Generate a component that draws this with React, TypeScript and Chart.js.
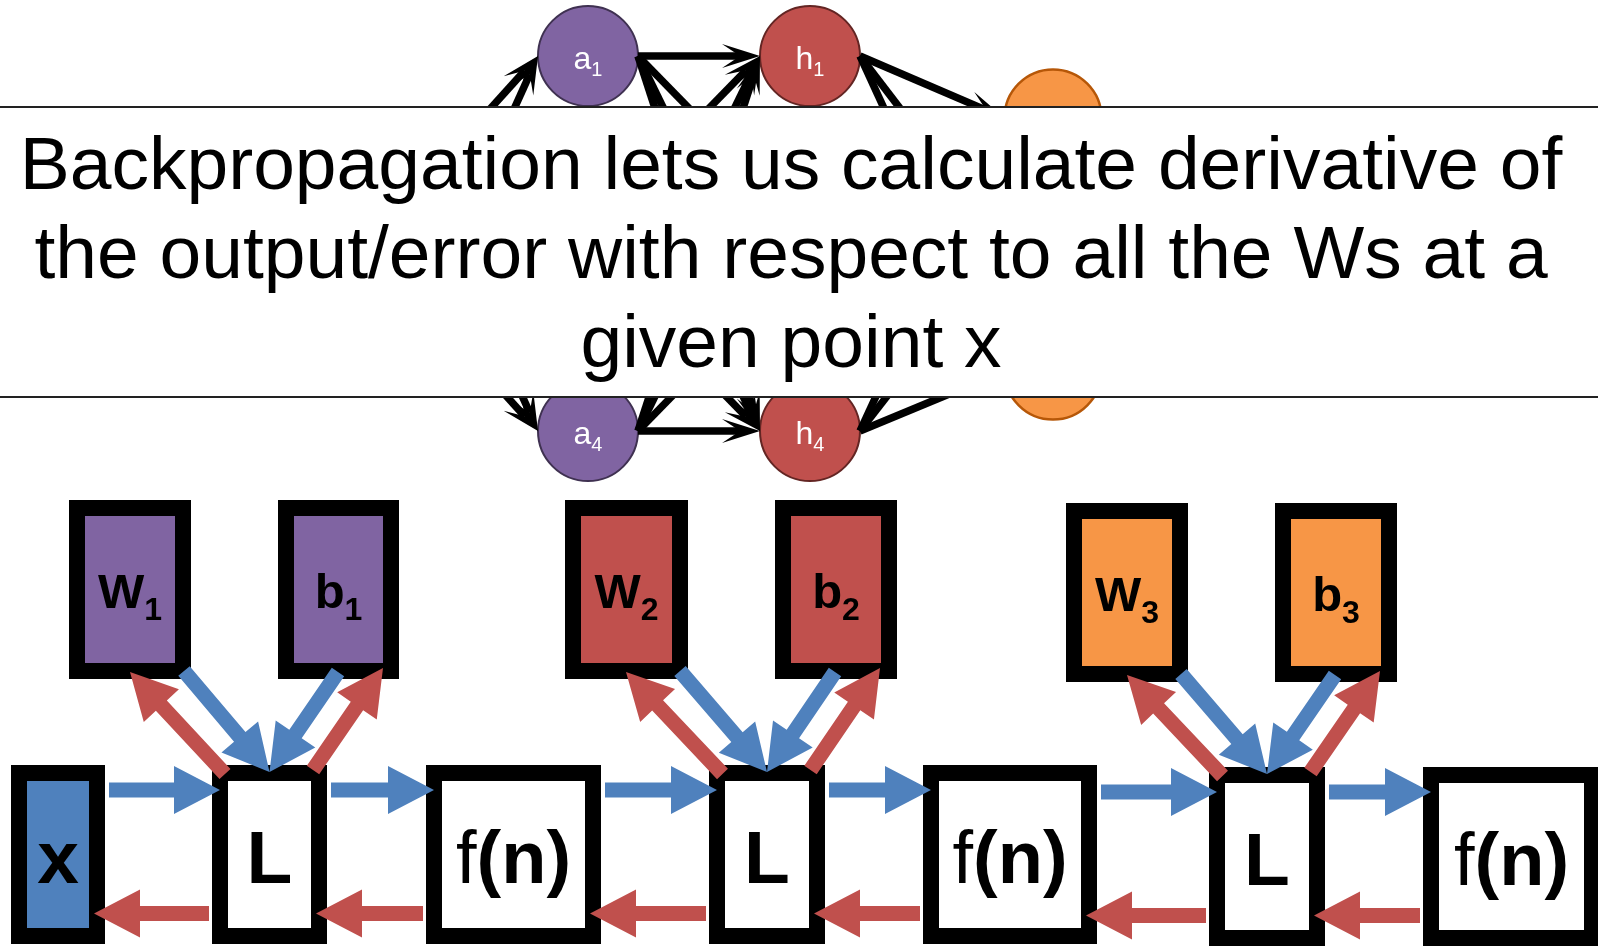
import React, { useEffect, useRef } from "react";
import { Chart, registerables } from "chart.js";

Chart.register(...registerables);

const W = 1598;
const H = 946;
const FONT = '"Liberation Sans", Arial, Helvetica, sans-serif';

// ---------- top network (diagram coordinates) ----------
const layerX = [375, 588, 810, 1053]; // inputs, a-layer, h-layer, outputs
const inputNodesY = [181, 306];
const aNodesY = [56, 181, 306, 431];
const hNodesY = [56, 181, 306, 431];
const outNodesY = [118, 245, 371];
const aSubs = ["1", "2", "3", "4"];
const hSubs = ["1", "2", "3", "4"];

// ---------- caption ----------
const captionLines = [
  "Backpropagation lets us calculate derivative of",
  "the output/error with respect to all the Ws at a",
  "given point x",
];
const captionBaselines = [189, 278, 367];
const bandTop = 107;
const bandBottom = 397;

// ---------- bottom computation chain ----------
const chainLabels = ["x", "L", "f(n)", "L", "f(n)", "L", "f(n)"];
const chainLeft = [11, 212, 426, 709, 923, 1209, 1423];
const chainRight = [105, 327, 601, 825, 1097, 1325, 1600];
const chainTop = [765, 765, 765, 765, 765, 767, 767];
const chainBottom = [944, 944, 944, 944, 944, 946, 946];
const chainFill = ["#4F81BD", "#FFFFFF", "#FFFFFF", "#FFFFFF", "#FFFFFF", "#FFFFFF", "#FFFFFF"];

const paramMain = ["W", "b", "W", "b", "W", "b"];
const paramSub = ["1", "1", "2", "2", "3", "3"];
const paramLeft = [69, 278, 565, 775, 1066, 1275];
const paramRight = [191, 399, 688, 897, 1188, 1397];
const paramTop = [500, 500, 500, 500, 503, 503];
const paramBottom = [679, 679, 679, 679, 682, 682];
const paramFill = ["#8064A2", "#8064A2", "#C0504D", "#C0504D", "#F79646", "#F79646"];

const BLUE = "#4F81BD";
const RED = "#C0504D";

function blockArrow(ctx: CanvasRenderingContext2D, tx: number, ty: number, px: number, py: number, color: string) {
  const shaft = 15, headLen = 46, headHalf = 24;
  const dx = px - tx, dy = py - ty;
  const len = Math.hypot(dx, dy);
  const ux = dx / len, uy = dy / len;
  const nx = -uy, ny = ux;
  const bx = px - ux * headLen, by = py - uy * headLen;
  ctx.beginPath();
  ctx.moveTo(tx + nx * shaft / 2, ty + ny * shaft / 2);
  ctx.lineTo(bx + nx * shaft / 2, by + ny * shaft / 2);
  ctx.lineTo(bx + nx * headHalf, by + ny * headHalf);
  ctx.lineTo(px, py);
  ctx.lineTo(bx - nx * headHalf, by - ny * headHalf);
  ctx.lineTo(bx - nx * shaft / 2, by - ny * shaft / 2);
  ctx.lineTo(tx - nx * shaft / 2, ty - ny * shaft / 2);
  ctx.closePath();
  ctx.fillStyle = color;
  ctx.fill();
}

function stealthArrow(ctx: CanvasRenderingContext2D, sx: number, sy: number, ex: number, ey: number) {
  const dx = ex - sx, dy = ey - sy;
  const len = Math.hypot(dx, dy);
  const ux = dx / len, uy = dy / len;
  const nx = -uy, ny = ux;
  const headLen = 38, headHalf = 12, notch = 20;
  ctx.strokeStyle = "#000";
  ctx.lineWidth = 7.5;
  ctx.lineCap = "butt";
  ctx.beginPath();
  ctx.moveTo(sx, sy);
  ctx.lineTo(ex - ux * notch, ey - uy * notch);
  ctx.stroke();
  ctx.beginPath();
  ctx.moveTo(ex, ey);
  ctx.lineTo(ex - ux * headLen + nx * headHalf, ey - uy * headLen + ny * headHalf);
  ctx.lineTo(ex - ux * notch, ey - uy * notch);
  ctx.lineTo(ex - ux * headLen - nx * headHalf, ey - uy * headLen - ny * headHalf);
  ctx.closePath();
  ctx.fillStyle = "#000";
  ctx.fill();
}

function subLabel(
  ctx: CanvasRenderingContext2D, cx: number, base: number, main: string, sub: string,
  mainFont: string, subFont: string, subDy: number, color: string
) {
  ctx.font = mainFont;
  const w1 = ctx.measureText(main).width;
  ctx.font = subFont;
  const w2 = ctx.measureText(sub).width;
  const x0 = cx - (w1 + w2) / 2;
  ctx.fillStyle = color;
  ctx.textAlign = "left";
  ctx.textBaseline = "alphabetic";
  ctx.font = mainFont;
  ctx.fillText(main, x0, base);
  ctx.font = subFont;
  ctx.fillText(sub, x0 + w1, base + subDy);
}

function framedBox(ctx: CanvasRenderingContext2D, l: number, t: number, r: number, b: number, fill: string) {
  const bw = 16;
  ctx.fillStyle = "#000";
  ctx.fillRect(l, t, r - l, b - t);
  ctx.fillStyle = fill;
  ctx.fillRect(l + bw, t + bw, r - l - 2 * bw, b - t - 2 * bw);
}

const diagramPlugin = {
  id: "diagram",
  afterDatasetsDraw(chart: any) {
    const ctx: CanvasRenderingContext2D = chart.ctx;
    const xs = chart.scales.x;
    const ys = chart.scales.y;
    const X = (v: number) => xs.getPixelForValue(v);
    const Y = (v: number) => ys.getPixelForValue(v);
    const R = X(50) - X(0);
    ctx.save();

    // network edges (right connection point -> left connection point)
    const layers = [inputNodesY, aNodesY, hNodesY, outNodesY];
    for (let l = 0; l < layers.length - 1; l++) {
      for (const y0 of layers[l]) {
        for (const y1 of layers[l + 1]) {
          const r1 = l + 1 === 3 ? X(48.5) - X(0) : R;
          stealthArrow(ctx, X(layerX[l]) + R, Y(y0), X(layerX[l + 1]) - r1, Y(y1));
        }
      }
    }

    // node labels
    const mainF = `32px ${FONT}`;
    const subF = `20px ${FONT}`;
    aNodesY.forEach((y, i) => subLabel(ctx, X(layerX[1]), Y(y) + 13, "a", aSubs[i], mainF, subF, 7, "#fff"));
    hNodesY.forEach((y, i) => subLabel(ctx, X(layerX[2]), Y(y) + 13, "h", hSubs[i], mainF, subF, 7, "#fff"));

    // caption band
    ctx.fillStyle = "#fff";
    ctx.fillRect(0, Y(bandTop), chart.width, Y(bandBottom) - Y(bandTop));
    ctx.strokeStyle = "#222";
    ctx.lineWidth = 2;
    ctx.beginPath();
    ctx.moveTo(0, Y(bandTop));
    ctx.lineTo(chart.width, Y(bandTop));
    ctx.moveTo(0, Y(bandBottom));
    ctx.lineTo(chart.width, Y(bandBottom));
    ctx.stroke();
    ctx.fillStyle = "#000";
    ctx.font = `75px ${FONT}`;
    ctx.textAlign = "center";
    ctx.textBaseline = "alphabetic";
    captionLines.forEach((t, i) => ctx.fillText(t, X(791), Y(captionBaselines[i])));

    // chain boxes
    chainLabels.forEach((lab, i) => {
      const l = X(chainLeft[i]), r = X(chainRight[i]), t = Y(chainTop[i]), b = Y(chainBottom[i]);
      framedBox(ctx, l, t, r, b, chainFill[i]);
      const cx = (l + r) / 2;
      const base = t + 118;
      ctx.fillStyle = "#000";
      ctx.textBaseline = "alphabetic";
      if (lab === "f(n)") {
        ctx.font = `74px ${FONT}`;
        const wf = ctx.measureText("f").width;
        ctx.font = `bold 74px ${FONT}`;
        const wr = ctx.measureText("(n)").width;
        const x0 = cx - (wf + wr) / 2;
        ctx.textAlign = "left";
        ctx.font = `74px ${FONT}`;
        ctx.fillText("f", x0, base);
        ctx.font = `bold 74px ${FONT}`;
        ctx.fillText("(n)", x0 + wf, base);
      } else {
        ctx.font = `bold 75px ${FONT}`;
        ctx.textAlign = "center";
        ctx.fillText(lab, cx, base);
      }
    });

    // parameter boxes
    paramMain.forEach((m, i) => {
      const l = X(paramLeft[i]), r = X(paramRight[i]), t = Y(paramTop[i]), b = Y(paramBottom[i]);
      framedBox(ctx, l, t, r, b, paramFill[i]);
      subLabel(ctx, (l + r) / 2, t + 108, m, paramSub[i], `bold 49px ${FONT}`, `bold 32px ${FONT}`, 12, "#000");
    });

    // horizontal arrows
    for (let i = 0; i < chainLabels.length - 1; i++) {
      const yF = Y(chainTop[i + 1]) + 25;
      blockArrow(ctx, X(chainRight[i]) + 4, yF, X(chainLeft[i + 1]) + 8, yF, BLUE);
      const yB = Y(chainTop[i + 1]) + 148.5;
      blockArrow(ctx, X(chainLeft[i + 1]) - 3, yB, X(chainRight[i]) - 11, yB, RED);
    }

    // diagonal arrows between parameters and L boxes
    for (let g = 0; g < 3; g++) {
      const wi = 2 * g, bi = 2 * g + 1, li = 1 + 2 * g;
      const lc = (X(chainLeft[li]) + X(chainRight[li])) / 2;
      const lt = Y(chainTop[li]);
      const wl = X(paramLeft[wi]), wb = Y(paramBottom[wi]);
      const bl = X(paramLeft[bi]), bb = Y(paramBottom[bi]);
      blockArrow(ctx, lc - 44.5, lt + 9, wl + 61, wb - 7, RED);
      blockArrow(ctx, wl + 115, wb - 8, lc, lt + 7, BLUE);
      blockArrow(ctx, bl + 60, bb - 7, lc, lt + 7, BLUE);
      blockArrow(ctx, lc + 43.5, lt + 5, bl + 105, bb - 11, RED);
    }

    ctx.restore();
  },
};

export default function App() {
  const ref = useRef<HTMLCanvasElement>(null);
  useEffect(() => {
    const canvas = ref.current!;
    const pts = (x: number, ys: number[]) => ys.map((y) => ({ x, y }));
    const chart = new Chart(canvas, {
      type: "scatter",
      data: {
        datasets: [
          {
            label: "inputs",
            data: pts(layerX[0], inputNodesY),
            pointRadius: 50,
            backgroundColor: "#4F81BD",
            borderColor: "#385D8A",
            borderWidth: 2,
          },
          {
            label: "a",
            data: pts(layerX[1], aNodesY),
            pointRadius: 50,
            backgroundColor: "#8064A2",
            borderColor: "#3F3151",
            borderWidth: 2,
          },
          {
            label: "h",
            data: pts(layerX[2], hNodesY),
            pointRadius: 50,
            backgroundColor: "#C0504D",
            borderColor: "#632523",
            borderWidth: 2,
          },
          {
            label: "out",
            data: pts(layerX[3], outNodesY),
            pointRadius: 48.5,
            backgroundColor: "#F79646",
            borderColor: "#B65708",
            borderWidth: 2.5,
          },
        ],
      },
      options: {
        responsive: false,
        animation: false,
        devicePixelRatio: 1,
        events: [],
        layout: { padding: 0, autoPadding: false },
        plugins: {
          legend: { display: false },
          tooltip: { enabled: false },
          title: { display: false },
        },
        scales: {
          x: { type: "linear", min: 0, max: W, display: false },
          y: { type: "linear", min: 0, max: H, reverse: true, display: false },
        },
      },
      plugins: [diagramPlugin],
    });
    return () => chart.destroy();
  }, []);
  return (
    <div style={{ position: "fixed", left: 0, top: 0, width: W, height: H, background: "#fff" }}>
      <canvas ref={ref} width={W} height={H} style={{ display: "block", width: W, height: H }} />
    </div>
  );
}
